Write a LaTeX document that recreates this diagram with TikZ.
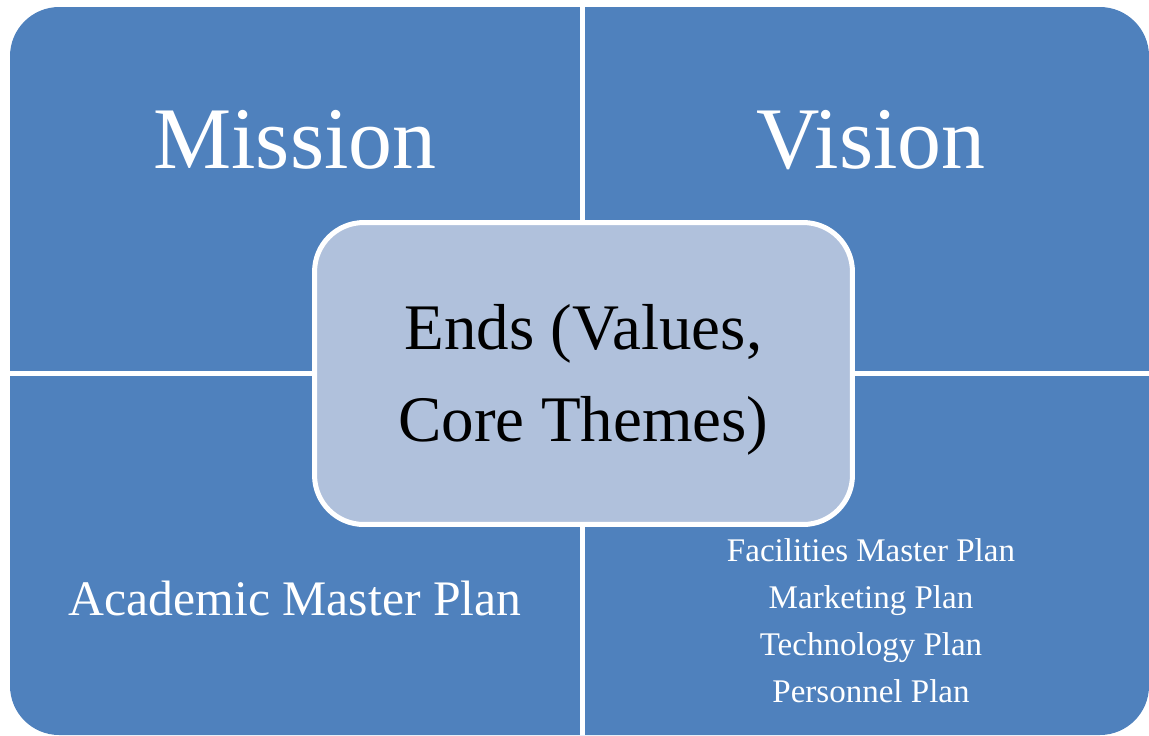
\documentclass[tikz,border=0pt]{standalone}
\usepackage{fontspec}
\setmainfont{Liberation Serif}
\usetikzlibrary{positioning}
\definecolor{quadblue}{HTML}{4F81BD}
\definecolor{hubblue}{HTML}{B0C1DC}
\newcommand\px{0.02cm}
\newcommand\gapw{2.85pt}
\tikzset{quad/.style={fill=quadblue, rounded corners=28pt},
  gapline/.style={white, line width=\gapw},
  hub/.style={rectangle, rounded corners=28pt, draw=white, line width=\gapw, fill=hubblue,
    minimum width=10.76cm, minimum height=6.04cm},
  hubtext/.style={align=center, text=black, font=\fontsize{37}{52.4}\selectfont},
  bigtitle/.style={text=white, anchor=base, font=\fontsize{50}{60}\selectfont},
  plantext/.style={text=white, align=center, font=\fontsize{28.3}{32}\selectfont},
  planlist/.style={text=white, align=center, font=\fontsize{18.8}{26.7}\selectfont}}
\begin{document}
\begin{tikzpicture}[x=\px, y=-\px]
                \useasboundingbox (0,0) rectangle (1149,735);
                \fill[quad] (10,7) rectangle (1149,735);
                \draw[gapline] (582.5,7) -- (582.5,735);
                \draw[gapline] (10,373.5) -- (1149,373.5);

                \node[bigtitle] (mission) at (295,168) {Mission};
                \node[bigtitle] (vision) at (871,168) {Vision};

                \node[plantext, anchor=base] (academic) at (295,615) {Academic Master Plan};
                \node[planlist] (plans) at (871,621) {Facilities Master Plan\\Marketing Plan\\Technology Plan\\Personnel Plan};

                \node[hub] (ends) at (583.5,373.5) {};
                \node[hubtext] (endstext) at ([yshift=-3.6pt]ends.center) {Ends (Values,\\Core Themes)};
            \end{tikzpicture}
\end{document}
